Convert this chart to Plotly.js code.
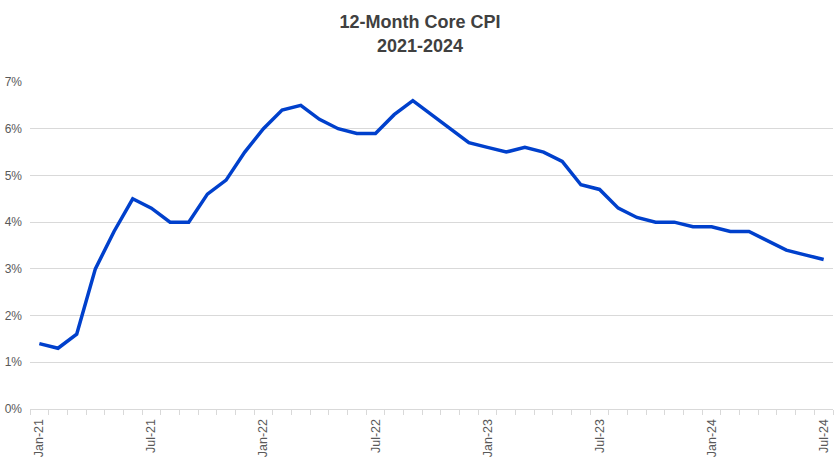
<!DOCTYPE html>
<html>
<head>
<meta charset="utf-8">
<script src="https://cdn.plot.ly/plotly-3.0.1.min.js"></script>
<style>html,body{margin:0;padding:0;background:#fff;}#chart{width:840px;height:472px;}</style>
</head>
<body>
<div id="chart"></div>
<script>
const months = [
  "Jan-21","Feb-21","Mar-21","Apr-21","May-21","Jun-21","Jul-21","Aug-21","Sep-21","Oct-21","Nov-21","Dec-21",
  "Jan-22","Feb-22","Mar-22","Apr-22","May-22","Jun-22","Jul-22","Aug-22","Sep-22","Oct-22","Nov-22","Dec-22",
  "Jan-23","Feb-23","Mar-23","Apr-23","May-23","Jun-23","Jul-23","Aug-23","Sep-23","Oct-23","Nov-23","Dec-23",
  "Jan-24","Feb-24","Mar-24","Apr-24","May-24","Jun-24","Jul-24"
];
const coreCPI = [
  1.4,1.3,1.6,3.0,3.8,4.5,4.3,4.0,4.0,4.6,4.9,5.5,
  6.0,6.4,6.5,6.2,6.0,5.9,5.9,6.3,6.6,6.3,6.0,5.7,
  5.6,5.5,5.6,5.5,5.3,4.8,4.7,4.3,4.1,4.0,4.0,3.9,
  3.9,3.8,3.8,3.6,3.4,3.3,3.2
];
const labelEvery = 6;
const tickText = months.map((m, i) => (i % labelEvery === 0 ? m : ""));

const trace = {
  type: "scatter",
  mode: "lines",
  x: months,
  y: coreCPI,
  line: {color: "#0040CC", width: 3.5},
  hoverinfo: "x+y"
};

const layout = {
  width: 840,
  height: 472,
  margin: {l: 30, r: 7, t: 82, b: 63},
  paper_bgcolor: "#ffffff",
  plot_bgcolor: "#ffffff",
  showlegend: false,
  font: {family: "Liberation Sans, Arial, sans-serif", color: "#595959", size: 12},
  title: {
    text: "<b>12-Month Core CPI<br>2021-2024</b>",
    font: {family: "Liberation Sans, Arial, sans-serif", size: 18, color: "#404040"},
    x: 0.5, xanchor: "center",
    y: 0.94, yanchor: "top"
  },
  xaxis: {
    type: "category",
    tickmode: "array",
    tickvals: months,
    ticktext: tickText,
    tickson: "boundaries",
    ticks: "outside",
    ticklen: 5,
    tickcolor: "#d9d9d9",
    tickangle: -90,
    ticklabelstandoff: 4,
    showgrid: false,
    showline: true,
    linecolor: "#d9d9d9",
    linewidth: 1,
    zeroline: false,
    range: [-0.5, months.length - 0.5],
    tickfont: {size: 12.5, color: "#595959"},
    fixedrange: true
  },
  yaxis: {
    range: [0, 7],
    dtick: 1,
    tick0: 0,
    ticksuffix: "%",
    showgrid: true,
    gridcolor: "#d9d9d9",
    gridwidth: 1,
    zeroline: false,
    showline: false,
    ticks: "",
    ticklabelstandoff: 7,
    tickfont: {size: 12, color: "#595959"},
    fixedrange: true
  }
};

Plotly.newPlot("chart", [trace], layout, {displayModeBar: false, staticPlot: true});
</script>
</body>
</html>
